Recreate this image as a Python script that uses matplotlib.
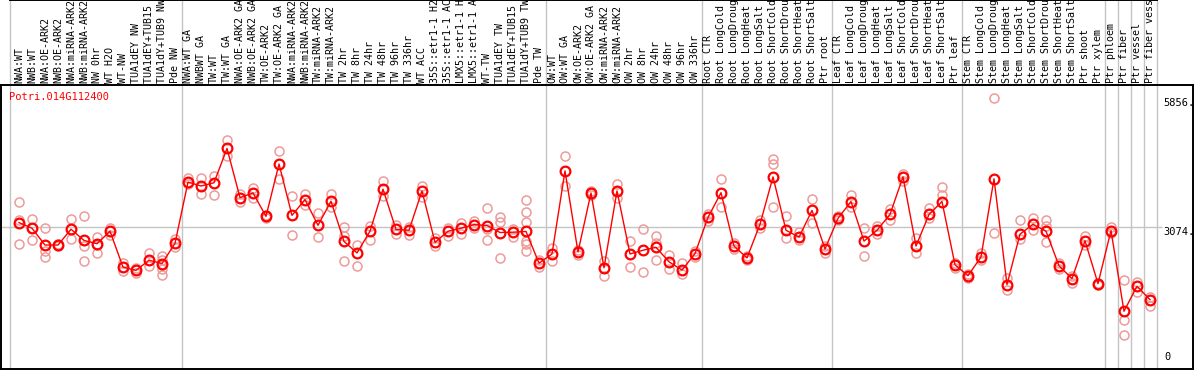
import matplotlib
matplotlib.use("Agg")
import matplotlib.pyplot as plt
import matplotlib.transforms as mtransforms

gene = "Potri.014G112400"

samples = [
    "NWA:WT", "NWB:WT", "NWA:OE-ARK2", "NWB:OE-ARK2", "NWA:miRNA-ARK2", "NWB:miRNA-ARK2",
    "NW 0hr", "WT H2O", "WT-NW", "TUA1dEY NW", "TUA1dEY+TUB15 NW", "TUA1dY+TUB9 NW", "Pde NW",
    "NWA:WT GA", "NWBWT GA", "TW:WT", "TW:WT GA", "NWA:OE-ARK2 GA", "NWB:OE-ARK2 GA",
    "TW:OE-ARK2", "TW:OE-ARK2 GA", "NWA:miRNA-ARK2", "NWB:miRNA-ARK2", "TW:miRNA-ARK2",
    "TW:miRNA-ARK2", "TW 2hr", "TW 8hr", "TW 24hr", "TW 48hr", "TW 96hr", "TW 336hr", "WT ACC",
    "35S::etr1-1 H2O", "35S::etr1-1 ACC", "LMX5::etr1-1 H2O", "LMX5::etr1-1 ACC", "WT-TW",
    "TUA1dEY TW", "TUA1dEY+TUB15 TW", "TUA1dY+TUB9 TW", "Pde TW",
    "OW:WT", "OW:WT GA", "OW:OE-ARK2", "OW:OE-ARK2 GA", "OW:miRNA-ARK2", "OW:miRNA-ARK2",
    "OW 2hr", "OW 8hr", "OW 24hr", "OW 48hr", "OW 96hr", "OW 336hr",
    "Root CTR", "Root LongCold", "Root LongDrought", "Root LongHeat", "Root LongSalt",
    "Root ShortCold", "Root ShortDrought", "Root ShortHeat", "Root ShortSalt", "Ptr root",
    "Leaf CTR", "Leaf LongCold", "Leaf LongDrought", "Leaf LongHeat", "Leaf LongSalt",
    "Leaf ShortCold", "Leaf ShortDrought", "Leaf ShortHeat", "Leaf ShortSalt", "Ptr leaf",
    "Stem CTR", "Stem LongCold", "Stem LongDrought", "Stem LongHeat", "Stem LongSalt",
    "Stem ShortCold", "Stem ShortDrought", "Stem ShortHeat", "Stem ShortSalt", "Ptr shoot",
    "Ptr xylem", "Ptr phloem", "Ptr fiber", "Ptr vessel", "Ptr fiber vessel",
]

# sample count per group, separated by the grey vertical lines
group_sizes = [13, 28, 12, 10, 10, 11, 1, 1, 1, 1]

means = [
    3165, 3043, 2680, 2680, 3022, 2780, 2708, 2979, 2203, 2131, 2353, 2280, 2716,
    4041, 3956, 4026, 4768, 3706, 3806, 3300, 4432, 3321, 3663, 3107, 3627, 2759, 2509,
    2979, 3887, 3017, 3000, 3849, 2738, 2979, 3043, 3122, 3101, 2951, 2958, 2973, 2289,
    2487, 4283, 2530, 3806, 2188, 3849, 2487, 2567, 2631, 2317, 2139, 2494,
    3278, 3812, 2658, 2402, 3129, 4154, 3000, 2851, 3428, 2594,
    3257, 3620, 2765, 3000, 3342, 4154, 2658, 3342, 3620, 2252,
    2017, 2423, 4112, 1825, 2915, 3129, 2979, 2231, 1953, 2772,
    1846, 2994, 1248, 1789, 1498,
]

replicates = [
    [3614, 3220, 2701], [3235, 2793, 3043], [3043, 2552, 2423], [2701, 2658],
    [3235, 2808], [3300, 2665, 2338], [2851, 2502, 2686], [3043, 2900],
    [2295, 2124], [2188, 2066], [2509, 2225], [2445, 2366, 2259, 2152, 2032],
    [2814, 2631],
    [4127, 4005], [4127, 3791], [4182, 3755], [4945, 4609], [3791, 3614],
    [3919, 3699], [3328, 3272], [4704, 4112], [3742, 2893], [3776, 3556],
    [3379, 2844], [3791, 3507], [3079, 2866, 2338], [2686, 2237], [3092, 2780],
    [4069, 3733], [3107, 2919], [3079, 2900], [3956, 3720], [2829, 2652],
    [3058, 2866], [3150, 2921], [3199, 3043], [3470, 3028, 2780],
    [3278, 3186, 2396], [3028, 2844], [3663, 3400, 3171, 2759, 2708, 2558],
    [2359, 2203], [2616, 2331],
    [4597, 3956], [2579, 2472], [3849, 3755], [2331, 2017], [4005, 3706],
    [2759, 2203], [3022, 2103], [2879, 2723, 2353], [2472, 2152], [2295, 2045],
    [2545, 2417],
    [3342, 3205], [4112, 3492], [2724, 2594], [2445, 2360], [3214, 3043],
    [4539, 4432, 3513], [3300, 2829], [2958, 2787], [3684, 3150], [2658, 2509],
    [3300, 3214], [3770, 3513], [3043, 2445], [3086, 2915], [3449, 3214],
    [4218, 4069], [2829, 2509], [3470, 3257], [3941, 3770], [2295, 2188],
    [2060, 1974], [2509, 2360], [5856, 2936], [1974, 1718], [3214, 2808],
    [3257, 3000], [3214, 3086, 2744], [2295, 2167], [2017, 1868], [2879, 2686],
    [1868, 1825], [3079, 2936], [1917, 1049, 729], [1889, 1675], [1562, 1370],
]

mid_value = 3074
max_value = 5856

fig = plt.figure(figsize=(11.94, 3.70), dpi=100)
ax = fig.add_axes([1 / 1194, 1 / 370, 1192 / 1194, 284 / 370])

xs = list(range(len(samples)))
step = 13.0
ax.set_xlim(-18 / step, (1193 - 19) / step)
ax.set_ylim(0, 6140)
ax.set_xticks([])
ax.set_yticks([])
for side in ax.spines.values():
    side.set_linewidth(1.4)
    side.set_color("black")

grid_col = "#c4c4c4"
top_frac = 1 + 85 / 284
ax.axvline(-9 / step, ymin=0, ymax=top_frac, color=grid_col, lw=1, clip_on=False, zorder=0)
edge = -0.5
for n in group_sizes:
    edge += n
    ax.axvline(edge, ymin=0, ymax=top_frac, color=grid_col, lw=1, clip_on=False, zorder=0)
ax.hlines(mid_value, -18 / step, (1162 - 19) / step, color=grid_col, lw=1, zorder=0)

# black line across the top of the label strip
ax.plot([-9 / step, edge], [top_frac, top_frac], color="black", lw=1.4,
        transform=mtransforms.blended_transform_factory(ax.transData, ax.transAxes),
        clip_on=False)

# replicates
for x, reps in zip(xs, replicates):
    ax.plot([x] * len(reps), reps, linestyle="none", marker="o", ms=6.5,
            mfc="none", mec="#ee9a9a", mew=1.1, zorder=2)

# means
ax.plot(xs, means, color="red", lw=1.0, marker="o", ms=7, mfc="none",
        mec="red", mew=1.6, zorder=3)

trans = mtransforms.blended_transform_factory(ax.transData, ax.transAxes)
for x, name in zip(xs, samples):
    ax.text(x, 1 + 2 / 284, name, rotation=90, ha="center", va="bottom",
            family="DejaVu Sans Mono", fontsize=7.2, transform=trans, clip_on=False)

label_x = (1163 - 19) / step
ax.text(label_x, max_value, f"{max_value}.", ha="left", va="top",
        family="DejaVu Sans Mono", fontsize=7.5)
ax.text(label_x, mid_value, f"{mid_value}.", ha="left", va="top",
        family="DejaVu Sans Mono", fontsize=7.5)
ax.text(label_x + 0.1, 150, "0", ha="left", va="bottom",
        family="DejaVu Sans Mono", fontsize=7.5)

ax.text(8 / 1192, 1 - 12 / 284, gene, color="red", ha="left", va="center",
        family="DejaVu Sans Mono", fontsize=7.5, transform=ax.transAxes)

fig.savefig("out.png", dpi=100)
